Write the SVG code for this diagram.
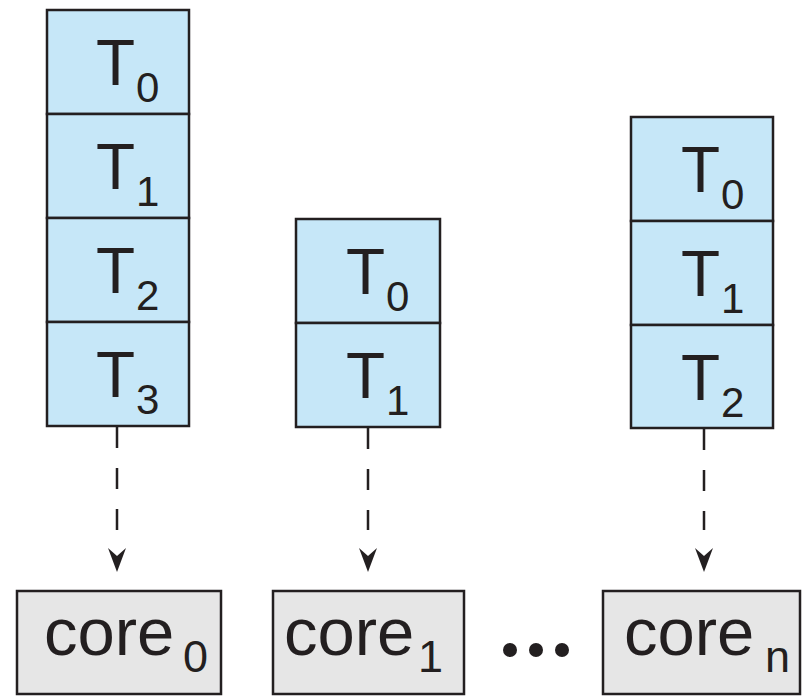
<svg xmlns="http://www.w3.org/2000/svg" width="802" height="696" viewBox="0 0 802 696">
<style>
.cell{fill:#c6e7f8;stroke:#231f20;stroke-width:2.5}
.core{fill:#e6e6e6;stroke:#231f20;stroke-width:2.5}
.t{font-family:"Liberation Sans",Arial,sans-serif;font-size:64px;fill:#231f20}
.sub{font-size:42px}
.c{font-family:"Liberation Sans",Arial,sans-serif;font-size:67px;fill:#231f20}
.csub{font-size:45px}
.dash{stroke:#231f20;stroke-width:2.5;stroke-dasharray:21 20;fill:none}
.head{fill:#231f20}
</style>
<rect width="802" height="696" fill="#ffffff"/>
<g id="stack0">
<rect class="cell" x="47" y="10" width="142" height="104"/>
<rect class="cell" x="47" y="114" width="142" height="104"/>
<rect class="cell" x="47" y="218" width="142" height="104"/>
<rect class="cell" x="47" y="322" width="142" height="104"/>
<text class="t" x="96" y="85">T<tspan class="sub" x="136" y="102">0</tspan></text>
<text class="t" x="96" y="189">T<tspan class="sub" x="136" y="206">1</tspan></text>
<text class="t" x="96" y="293">T<tspan class="sub" x="136" y="310">2</tspan></text>
<text class="t" x="96" y="397">T<tspan class="sub" x="136" y="414">3</tspan></text>
</g>
<g id="stack1">
<rect class="cell" x="296" y="219" width="144" height="104"/>
<rect class="cell" x="296" y="323" width="144" height="104"/>
<text class="t" x="346" y="294">T<tspan class="sub" x="386" y="311">0</tspan></text>
<text class="t" x="346" y="398">T<tspan class="sub" x="386" y="415">1</tspan></text>
</g>
<g id="stackn">
<rect class="cell" x="631" y="117" width="142" height="104"/>
<rect class="cell" x="631" y="221" width="142" height="104"/>
<rect class="cell" x="631" y="325" width="142" height="103"/>
<text class="t" x="681" y="192">T<tspan class="sub" x="721" y="209">0</tspan></text>
<text class="t" x="681" y="296">T<tspan class="sub" x="721" y="313">1</tspan></text>
<text class="t" x="681" y="400">T<tspan class="sub" x="721" y="417">2</tspan></text>
</g>
<g id="connectors">
<line class="dash" x1="117" y1="427" x2="117" y2="530"/>
<path class="head" d="M117,572 L108,548 L117,556 L126,548 Z"/>
<line class="dash" x1="368" y1="428" x2="368" y2="530"/>
<path class="head" d="M368,572 L359,548 L368,556 L377,548 Z"/>
<line class="dash" x1="704" y1="429" x2="704" y2="530"/>
<path class="head" d="M704,572 L695,548 L704,556 L713,548 Z"/>
</g>
<g id="core0">
<rect class="core" x="17" y="591" width="204" height="103"/>
<text class="c" x="44" y="655">core<tspan class="csub" x="183" y="672">0</tspan></text>
</g>
<g id="core1">
<rect class="core" x="273" y="591" width="191" height="103"/>
<text class="c" x="284" y="655">core<tspan class="csub" x="418" y="672">1</tspan></text>
</g>
<g id="ellipsis">
<circle cx="510" cy="650" r="7" fill="#231f20"/>
<circle cx="536" cy="650" r="7" fill="#231f20"/>
<circle cx="562" cy="650" r="7" fill="#231f20"/>
</g>
<g id="coren">
<rect class="core" x="603" y="591" width="197" height="103"/>
<text class="c" x="624" y="655">core<tspan class="csub" x="765" y="672">n</tspan></text>
</g>
</svg>
